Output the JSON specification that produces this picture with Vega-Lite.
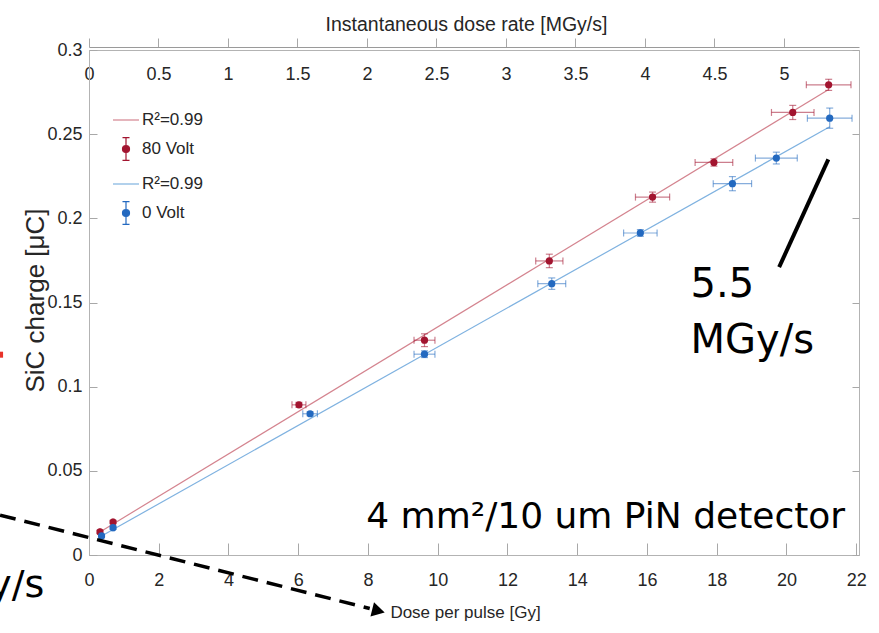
{
  "$schema": "https://vega.github.io/schema/vega-lite/v6.json",
  "width": 770,
  "height": 505,
  "autosize": {"type": "none"},
  "padding": {"left": 89, "top": 50, "right": 20, "bottom": 78},
  "background": "white",
  "config": {
    "view": {"stroke": "#b3b3b3", "strokeWidth": 1},
    "axis": {
      "grid": false,
      "labelFont": "Liberation Sans",
      "labelFontSize": 18,
      "labelColor": "#262626",
      "labelFlush": false,
      "labelOverlap": false,
      "titleFontWeight": "normal",
      "titleColor": "#262626",
      "tickColor": "#a8a8a8",
      "domainColor": "#b3b3b3"
    }
  },
  "datasets": {
    "pts": [
      {"series": "80 Volt", "dose": 0.315, "charge": 0.0137, "xerr": 0.01, "yerr": 0.001},
      {"series": "80 Volt", "dose": 0.69, "charge": 0.0196, "xerr": 0.02, "yerr": 0.001},
      {"series": "80 Volt", "dose": 6.02, "charge": 0.0892, "xerr": 0.2, "yerr": 0.0015},
      {"series": "80 Volt", "dose": 9.62, "charge": 0.1276, "xerr": 0.3, "yerr": 0.0038},
      {"series": "80 Volt", "dose": 13.2, "charge": 0.1747, "xerr": 0.39, "yerr": 0.004},
      {"series": "80 Volt", "dose": 16.16, "charge": 0.2126, "xerr": 0.49, "yerr": 0.003},
      {"series": "80 Volt", "dose": 17.92, "charge": 0.2332, "xerr": 0.54, "yerr": 0.0022},
      {"series": "80 Volt", "dose": 20.18, "charge": 0.2629, "xerr": 0.61, "yerr": 0.0042},
      {"series": "80 Volt", "dose": 21.21, "charge": 0.2793, "xerr": 0.64, "yerr": 0.0033},
      {"series": "0 Volt", "dose": 0.36, "charge": 0.0113, "xerr": 0.01, "yerr": 0.001},
      {"series": "0 Volt", "dose": 0.69, "charge": 0.0162, "xerr": 0.02, "yerr": 0.001},
      {"series": "0 Volt", "dose": 6.34, "charge": 0.0839, "xerr": 0.21, "yerr": 0.0012},
      {"series": "0 Volt", "dose": 9.62, "charge": 0.1193, "xerr": 0.3, "yerr": 0.002},
      {"series": "0 Volt", "dose": 13.27, "charge": 0.1612, "xerr": 0.4, "yerr": 0.0034},
      {"series": "0 Volt", "dose": 15.81, "charge": 0.1913, "xerr": 0.48, "yerr": 0.002},
      {"series": "0 Volt", "dose": 18.45, "charge": 0.2206, "xerr": 0.55, "yerr": 0.0042},
      {"series": "0 Volt", "dose": 19.71, "charge": 0.2358, "xerr": 0.6, "yerr": 0.0035},
      {"series": "0 Volt", "dose": 21.24, "charge": 0.2595, "xerr": 0.64, "yerr": 0.006}
    ],
    "fits": [
      {"series": "fit80", "dose": 0.315, "charge": 0.0137},
      {"series": "fit80", "dose": 21.21, "charge": 0.2765},
      {"series": "fit0", "dose": 0.36, "charge": 0.0113},
      {"series": "fit0", "dose": 21.24, "charge": 0.2544}
    ],
    "legendrows": [
      {"series": "fit80", "dose": 1, "charge": 0.1},
      {"series": "80 Volt", "dose": 1, "charge": 0.1},
      {"series": "fit0", "dose": 1, "charge": 0.1},
      {"series": "0 Volt", "dose": 1, "charge": 0.1}
    ]
  },
  "layer": [
    {
      "layer": [
        {
          "data": {"name": "fits"},
          "mark": {"type": "line", "strokeWidth": 1.2},
          "encoding": {
            "x": {
              "field": "dose", "type": "quantitative", "title": "Dose per pulse [Gy]",
              "scale": {"domain": [0, 22.08], "nice": false, "zero": false},
              "axis": {
                "values": [0, 2, 4, 6, 8, 10, 12, 14, 16, 18, 20, 22],
                "format": "~g",
                "tickSize": -12,
                "labelPadding": 28,
                "titleFont": "Liberation Sans",
                "titleFontSize": 17,
                "titleX": 376,
                "titleY": 62,
                "titleBaseline": "alphabetic",
                "titleAlign": "center"
              }
            },
            "y": {
              "field": "charge", "type": "quantitative", "title": "SiC charge [μC]",
              "scale": {"domain": [0, 0.3], "nice": false, "zero": false},
              "axis": {
                "values": [0, 0.05, 0.1, 0.15, 0.2, 0.25, 0.3],
                "format": "~g",
                "tickSize": -8,
                "labelPadding": 15,
                "titleFont": "Liberation Sans",
                "titleFontSize": 26,
                "titleX": -46,
                "titleY": 250,
                "titleAngle": -90,
                "titleBaseline": "alphabetic",
                "titleAlign": "center"
              }
            },
            "color": {
              "field": "series", "type": "nominal",
              "scale": {"domain": ["fit80", "80 Volt", "fit0", "0 Volt"], "range": ["#d4848f", "#a2142f", "#7fb2e0", "#2369c0"]}
            },
            "detail": {"field": "series"}
          }
        },
        {
          "data": {"name": "pts"},
          "mark": {"type": "errorbar", "ticks": true, "size": 7, "thickness": 1.2, "opacity": 0.55},
          "encoding": {
            "x": {"field": "dose", "type": "quantitative", "title": "Dose per pulse [Gy]"},
            "xError": {"field": "xerr"},
            "y": {"field": "charge", "type": "quantitative", "title": "SiC charge [μC]"},
            "color": {"field": "series", "type": "nominal"}
          }
        },
        {
          "data": {"name": "pts"},
          "mark": {"type": "errorbar", "ticks": true, "size": 7, "thickness": 1.2, "opacity": 0.55},
          "encoding": {
            "y": {"field": "charge", "type": "quantitative", "title": "SiC charge [μC]"},
            "yError": {"field": "yerr"},
            "x": {"field": "dose", "type": "quantitative", "title": "Dose per pulse [Gy]"},
            "color": {"field": "series", "type": "nominal"}
          }
        },
        {
          "data": {"name": "pts"},
          "mark": {"type": "point", "filled": true, "size": 52, "opacity": 1},
          "encoding": {
            "x": {"field": "dose", "type": "quantitative", "title": "Dose per pulse [Gy]"},
            "y": {"field": "charge", "type": "quantitative", "title": "SiC charge [μC]"},
            "color": {"field": "series", "type": "nominal"}
          }
        },
        {
          "data": {"name": "legendrows"},
          "mark": {"type": "point", "filled": true, "opacity": 0},
          "encoding": {
            "x": {"field": "dose", "type": "quantitative", "title": "Dose per pulse [Gy]"},
            "y": {"field": "charge", "type": "quantitative", "title": "SiC charge [μC]"},
            "color": {
              "field": "series", "type": "nominal",
              "legend": {
                "orient": "none",
                "legendX": 23,
                "legendY": 56,
                "title": null,
                "padding": 0,
                "symbolSize": 676,
                "symbolOpacity": 1,
                "symbolStrokeWidth": 1.2,
                "labelFont": "Liberation Sans",
                "labelFontSize": 17,
                "labelColor": "#262626",
                "labelOffset": 2,
                "rowPadding": 7,
                "labelExpr": "indexof(datum.label, 'fit') === 0 ? 'R²=0.99' : datum.label",
                "encode": {"symbols": {"update": {"stroke": {"scale": "color", "field": "value"}, "strokeWidth": {"value": 1.2}, "opacity": {"value": 1}}}}
              }
            },
            "shape": {
              "field": "series", "type": "nominal",
              "scale": {
                "domain": ["fit80", "80 Volt", "fit0", "0 Volt"],
                "range": [
                  "M-1,0H1",
                  "M0,-0.88V0.88M-0.27,-0.88H0.27M-0.27,0.88H0.27M0.27,0A0.27,0.27,0,1,1,-0.27,0A0.27,0.27,0,1,1,0.27,0Z",
                  "M-1,0H1",
                  "M0,-0.88V0.88M-0.27,-0.88H0.27M-0.27,0.88H0.27M0.27,0A0.27,0.27,0,1,1,-0.27,0A0.27,0.27,0,1,1,0.27,0Z"
                ]
              }
            }
          }
        },
        {
          "data": {"values": [{}]},
          "mark": {"type": "text", "text": "4 mm²/10 um PiN detector", "font": "DejaVu Sans", "fontSize": 36, "align": "left", "baseline": "alphabetic", "color": "black"},
          "encoding": {
            "x": {"datum": 7.95, "type": "quantitative", "title": "Dose per pulse [Gy]"},
            "y": {"datum": 0.016, "type": "quantitative", "title": "SiC charge [μC]"}
          }
        },
        {
          "data": {"values": [{}]},
          "mark": {"type": "text", "text": ["5.5", "MGy/s"], "font": "DejaVu Sans", "fontSize": 40, "lineHeight": 56, "align": "left", "baseline": "alphabetic", "color": "black"},
          "encoding": {
            "x": {"datum": 17.25, "type": "quantitative", "title": "Dose per pulse [Gy]"},
            "y": {"datum": 0.153, "type": "quantitative", "title": "SiC charge [μC]"}
          }
        },
        {
          "data": {"values": [{}]},
          "mark": {"type": "text", "text": "y/s", "font": "DejaVu Sans", "fontSize": 38, "align": "right", "baseline": "alphabetic", "color": "black"},
          "encoding": {
            "x": {"datum": -1.28, "type": "quantitative", "title": "Dose per pulse [Gy]"},
            "y": {"datum": -0.025, "type": "quantitative", "title": "SiC charge [μC]"}
          }
        },
        {
          "data": {"values": [{}]},
          "mark": {"type": "rule", "strokeWidth": 4, "color": "black"},
          "encoding": {
            "x": {"datum": 21.2, "type": "quantitative", "title": "Dose per pulse [Gy]"},
            "y": {"datum": 0.235, "type": "quantitative", "title": "SiC charge [μC]"},
            "x2": {"datum": 19.79},
            "y2": {"datum": 0.171}
          }
        },
        {
          "data": {"values": [{}]},
          "mark": {"type": "rule", "strokeWidth": 3.5, "color": "black", "strokeDash": [16, 9]},
          "encoding": {
            "x": {"datum": -2.55, "type": "quantitative", "title": "Dose per pulse [Gy]"},
            "y": {"datum": 0.0237, "type": "quantitative", "title": "SiC charge [μC]"},
            "x2": {"datum": 8.05},
            "y2": {"datum": -0.0318}
          }
        },
        {
          "data": {"values": [{}]},
          "mark": {"type": "point", "shape": "triangle-right", "angle": 14, "size": 220, "filled": true, "color": "black", "opacity": 1},
          "encoding": {
            "x": {"datum": 8.3, "type": "quantitative", "title": "Dose per pulse [Gy]"},
            "y": {"datum": -0.0332, "type": "quantitative", "title": "SiC charge [μC]"}
          }
        },
        {
          "data": {"values": [{}]},
          "mark": {"type": "point", "shape": "square", "size": 36, "filled": true, "color": "#e8332a", "opacity": 1},
          "encoding": {
            "x": {"datum": -2.55, "type": "quantitative", "title": "Dose per pulse [Gy]"},
            "y": {"datum": 0.119, "type": "quantitative", "title": "SiC charge [μC]"}
          }
        }
      ]
    },
    {
      "data": {"values": [{"rate": 0}, {"rate": 5.54}]},
      "mark": {"type": "point", "opacity": 0},
      "encoding": {
        "x": {
          "field": "rate", "type": "quantitative",
          "scale": {"domain": [0, 5.54], "nice": false, "zero": false},
          "axis": {
            "orient": "top",
            "values": [0, 0.5, 1, 1.5, 2, 2.5, 3, 3.5, 4, 4.5, 5],
            "format": "~g",
            "offset": 3,
            "tickSize": 9,
            "labelPadding": -36,
            "labelBaseline": "middle",
            "domainColor": "#9a9a9a",
            "title": "Instantaneous dose rate [MGy/s]",
            "titleFont": "Liberation Sans",
            "titleFontSize": 19.5,
            "titleX": 377,
            "titleY": -17,
            "titleBaseline": "alphabetic",
            "titleAlign": "center"
          }
        }
      }
    },
    {
      "data": {"values": [{"c": 0}, {"c": 0.3}]},
      "mark": {"type": "point", "opacity": 0},
      "encoding": {
        "y": {
          "field": "c", "type": "quantitative",
          "scale": {"domain": [0, 0.3], "nice": false, "zero": false},
          "axis": {
            "orient": "right",
            "values": [0, 0.05, 0.1, 0.15, 0.2, 0.25, 0.3],
            "labels": false,
            "domain": false,
            "tickSize": -7,
            "title": null
          }
        }
      }
    }
  ],
  "resolve": {"scale": {"x": "independent", "y": "independent"}}
}
